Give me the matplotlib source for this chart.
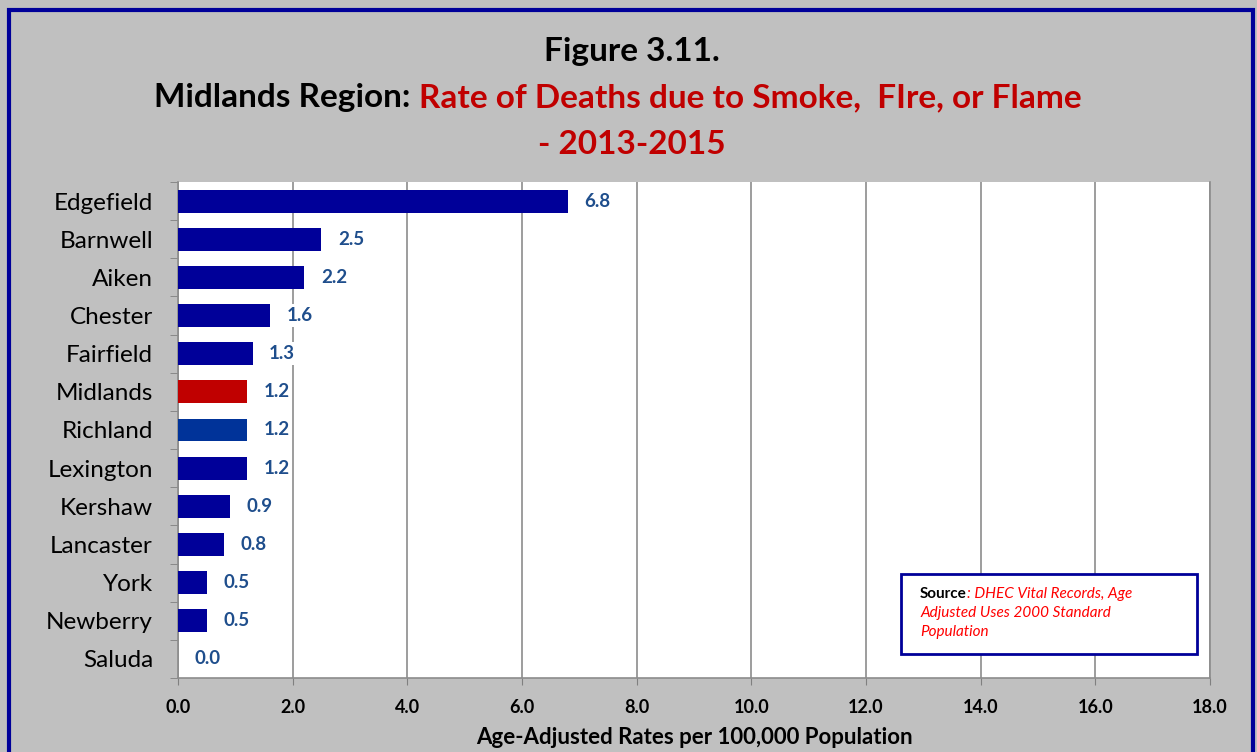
import matplotlib
matplotlib.use("Agg")
import matplotlib.pyplot as plt
from matplotlib.patches import Rectangle
import numpy as np

counties = ["Edgefield", "Barnwell", "Aiken", "Chester", "Fairfield", "Midlands",
            "Richland", "Lexington", "Kershaw", "Lancaster", "York", "Newberry", "Saluda"]
rates = [6.8, 2.5, 2.2, 1.6, 1.3, 1.2, 1.2, 1.2, 0.9, 0.8, 0.5, 0.5, 0.0]
bar_colors = ["#000099"] * 5 + ["#C00000", "#003399"] + ["#000099"] * 6
xticks = [0, 2, 4, 6, 8, 10, 12, 14, 16, 18]

FONT = ["Lato", "DejaVu Sans"]
plt.rcParams["font.family"] = FONT

W, H = 1257, 752
fig = plt.figure(figsize=(W / 100, H / 100), dpi=100)
fig.patch.set_facecolor("#C0C0C0")

# outer border
fig.add_artist(Rectangle((9 / W, -0.05), (1253 - 9) / W, (H - 10) / H + 0.05,
                         transform=fig.transFigure, fill=False,
                         edgecolor="#000099", linewidth=3, zorder=10))

ax = fig.add_axes([178 / W, 1 - 678 / H, (1210 - 178) / W, (678 - 182) / H])
ax.set_facecolor("white")

y = np.arange(len(counties))
ax.barh(y, rates, height=0.6, color=bar_colors, zorder=3)
ax.set_xlim(0, 18)
ax.set_ylim(len(counties) - 0.5, -0.5)

ax.set_xticks(xticks)
ax.set_xticklabels([f"{v:.1f}" for v in xticks], fontsize=13, fontweight="bold")
ax.tick_params(axis="x", length=5, color="#808080", pad=10)
ax.grid(axis="x", color="#8C8C8C", linewidth=1.2, zorder=0)

ax.set_yticks(y)
ax.set_yticklabels(counties, fontsize=17.5)
ax.tick_params(axis="y", length=0, pad=18)
ax.set_yticks(np.arange(-0.5, len(counties), 1), minor=True)
ax.tick_params(axis="y", which="minor", length=6, color="#808080")

for s in ["left", "right", "bottom"]:
    ax.spines[s].set_color("#8C8C8C")
    ax.spines[s].set_linewidth(1.2)
ax.spines["top"].set_visible(False)

for yi, v in zip(y, rates):
    ax.annotate(f"{v:.1f}", xy=(v, yi), xytext=(12, 0), textcoords="offset points",
                ha="left", va="center", fontsize=13.5, fontweight="bold",
                color="#1F4E8C", zorder=5,
                bbox=dict(boxstyle="square,pad=0.15", facecolor="white", edgecolor="none"))

ax.set_xlabel("Age-Adjusted Rates per 100,000 Population", fontsize=16,
              fontweight="bold", labelpad=8)

# Title
TS = 24
cx = 632 / W
fig.text(cx, 1 - 52 / H, "Figure 3.11.", ha="center", va="center",
         fontsize=TS, fontweight="bold", color="black")
fig.text(cx, 1 - 144 / H, "- 2013-2015", ha="center", va="center",
         fontsize=TS, fontweight="bold", color="#C00000")

renderer = fig.canvas.get_renderer()
part1 = "Midlands Region: "
part2 = "Rate of Deaths due to Smoke,  FIre, or Flame"
t1 = fig.text(0, 1 - 98 / H, part1, ha="left", va="center", fontsize=TS,
              fontweight="bold", color="black")
t2 = fig.text(0, 1 - 98 / H, part2, ha="left", va="center", fontsize=TS,
              fontweight="bold", color="#C00000")
w1 = t1.get_window_extent(renderer).width / W
w2 = t2.get_window_extent(renderer).width / W
start = 618 / W - (w1 + w2) / 2
t1.set_x(start)
t2.set_x(start + w1)

# Source box
bx0, by0, bx1, by1 = 901, 574, 1197, 654
fig.add_artist(Rectangle((bx0 / W, 1 - by1 / H), (bx1 - bx0) / W, (by1 - by0) / H,
                         transform=fig.transFigure, facecolor="white",
                         edgecolor="#000099", linewidth=2, zorder=6))
SS = 11
s1 = fig.text(920 / W, 1 - 594 / H, "Source", ha="left", va="center", fontsize=SS,
              fontweight="bold", color="black", zorder=7)
ws = s1.get_window_extent(renderer).width / W
fig.text(920 / W + ws, 1 - 594 / H, ": DHEC Vital Records, Age", ha="left",
         va="center", fontsize=SS, style="italic", color="#FF0000", zorder=7)
fig.text(920 / W, 1 - 613 / H, "Adjusted Uses 2000 Standard", ha="left",
         va="center", fontsize=SS, style="italic", color="#FF0000", zorder=7)
fig.text(920 / W, 1 - 632 / H, "Population", ha="left",
         va="center", fontsize=SS, style="italic", color="#FF0000", zorder=7)

fig.savefig("out.png", dpi=100, facecolor=fig.get_facecolor())
